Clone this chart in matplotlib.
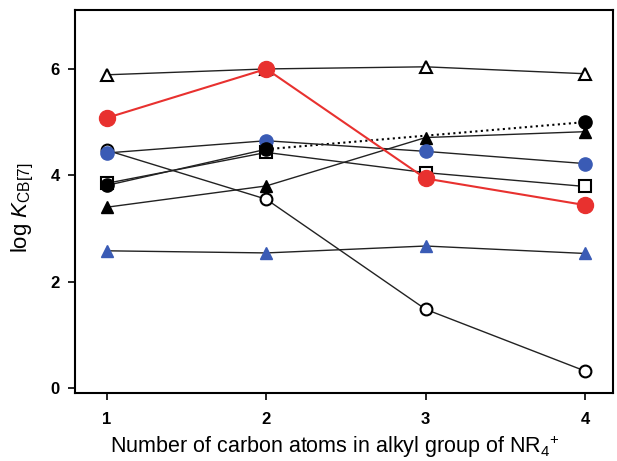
import matplotlib
matplotlib.use("Agg")
import matplotlib.pyplot as plt

plt.rcParams['font.family'] = ['Liberation Sans', 'DejaVu Sans']
plt.rcParams['mathtext.fontset'] = 'custom'
plt.rcParams['mathtext.rm'] = 'Liberation Sans'
plt.rcParams['mathtext.it'] = 'Liberation Sans:italic'

x = [1, 2, 3, 4]
open_tri = [5.89, 6.00, 6.04, 5.91]
red_circ = [5.08, 6.00, 3.94, 3.44]
black_circ_x = [1, 2, 4]
black_circ = [3.81, 4.49, 5.00]
blue_circ = [4.42, 4.65, 4.45, 4.22]
open_sq = [3.85, 4.43, 4.05, 3.79]
black_tri = [3.40, 3.80, 4.71, 4.82]
blue_tri = [2.58, 2.54, 2.67, 2.53]
open_circ = [4.47, 3.55, 1.48, 0.32]

blue = '#3a5bb5'
red = '#e8312f'

fig = plt.figure(figsize=(6.17, 4.61), dpi=100)
ax = fig.add_axes([0.1216, 0.1475, 0.872, 0.831])

lw = 1.0
ax.plot(x, open_circ, '-o', color='#222222', lw=lw, mfc='white', mec='black', mew=1.5, ms=8.5, zorder=2)
ax.plot(x, blue_tri, '-^', color='#222222', lw=lw, mfc=blue, mec=blue, ms=9, zorder=3)
ax.plot(x, black_tri, '-^', color='#222222', lw=lw, mfc='black', mec='black', ms=9, zorder=3)
ax.plot(x, open_sq, '-s', color='#222222', lw=lw, mfc='white', mec='black', mew=1.5, ms=8, zorder=3)
ax.plot(x, blue_circ, '-o', color='#222222', lw=lw, mfc=blue, mec=blue, ms=9.5, zorder=4)
ax.plot(black_circ_x[:2], black_circ[:2], '-', color='#222222', lw=lw, zorder=3)
ax.plot(black_circ_x[1:], black_circ[1:], ':', color='black', lw=1.5, zorder=3)
ax.plot(black_circ_x, black_circ, 'o', mfc='black', mec='black', ms=9.5, zorder=4)
ax.plot(x, open_tri, '-^', color='#222222', lw=lw, mfc='white', mec='black', mew=1.5, ms=9, zorder=3)
ax.plot(x, red_circ, '-o', color=red, lw=1.5, mfc=red, mec=red, ms=11.5, zorder=5)

ax.set_xlim(0.8, 4.176)
ax.set_ylim(-0.094, 7.11)
ax.set_xticks([1, 2, 3, 4])
ax.set_xticklabels(['1', '2', '3', '4'], fontweight='bold', fontsize=12)
ax.set_yticks([0, 2, 4, 6])
ax.set_yticklabels(['0', '2', '4', '6'], fontweight='bold', fontsize=12)
ax.tick_params(direction='out', length=5, width=1.2)
ax.tick_params(axis='x', pad=9)
ax.tick_params(axis='y', pad=6)
for s in ax.spines.values():
    s.set_linewidth(1.5)
ax.set_xlabel('Number of carbon atoms in alkyl group of NR$_4$$^{+}$', fontsize=15.5)
ax.xaxis.set_label_coords(0.483, -0.107)
ax.set_ylabel('log $\\mathit{K}_{\\mathrm{CB[7]}}$', fontsize=16)
ax.yaxis.set_label_coords(-0.072, 0.483)

fig.savefig('out.png', dpi=100)
